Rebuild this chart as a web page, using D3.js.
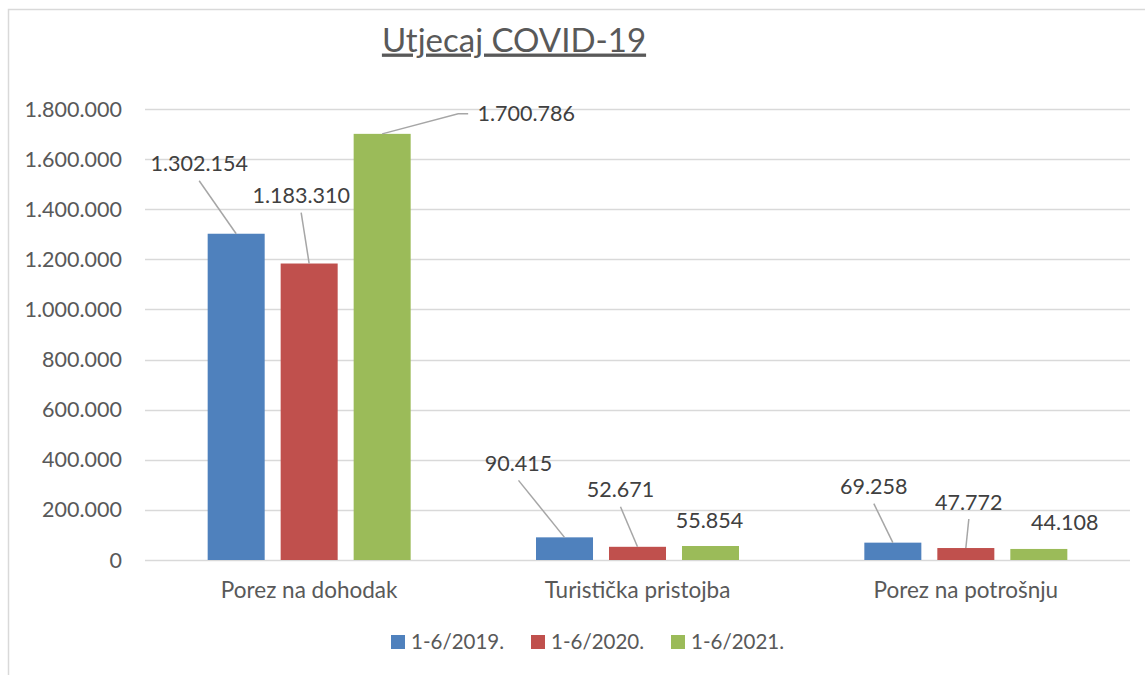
<!DOCTYPE html>
<html><head><meta charset="utf-8">
<script src="https://cdn.jsdelivr.net/npm/d3@7"></script>
<style>body{margin:0;background:#fff}svg{display:block}text{font-family:Lato,"Open Sans",sans-serif}</style>
</head><body><svg id="c" width="1145" height="675"></svg>
<script>
const categories = ["Porez na dohodak", "Turistička pristojba", "Porez na potrošnju"];
const seriesNames = ["1-6/2019.", "1-6/2020.", "1-6/2021."];
const v2019 = [1302154, 90415, 69258];
const v2020 = [1183310, 52671, 47772];
const v2021 = [1700786, 55854, 44108];
const yTicks = [0, 200000, 400000, 600000, 800000, 1000000, 1200000, 1400000, 1600000, 1800000];
const title = "Utjecaj COVID-19";

const colors = ["#4F81BD", "#C0504D", "#9BBB59"];
const values = [v2019, v2020, v2021];
// label placement (layout): offsets from bar top-centre, leader flag
const labelLayout = [
  [{dx:-37,dy:-70,lead:1},{dx:-46,dy:-74,lead:1},{dx:-19,dy:-56,lead:1}],
  [{dx:-8,dy:-68,lead:1},{dx:-17,dy:-57,lead:1},{dx:3,dy:-46,lead:1}],
  [{dx:144,dy:-20,lead:2},{dx:-1,dy:-26,lead:0},{dx:26,dy:-26,lead:0}]
];

const fmt = n => String(n).replace(/\B(?=(\d{3})+(?!\d))/g, ".");
const svg = d3.select("#c");

svg.append("path").attr("d","M8.5,675 V9.5 H1145").attr("fill","none").attr("stroke","#D9D9D9").attr("stroke-width",1.5);

const y = d3.scaleLinear().domain([0,1800000]).range([560,109]);
const x0 = d3.scaleBand().domain(categories).range([145,1130]);
const x1 = d3.scaleBand().domain(seriesNames).range([0,203]).paddingInner(0.219);
const off = (x0.bandwidth()-203)/2;

// grid
svg.append("g").selectAll("line").data(yTicks).join("line")
  .attr("x1",145).attr("x2",1130).attr("y1",d=>Math.round(y(d))+0.5).attr("y2",d=>Math.round(y(d))+0.5)
  .attr("stroke","#D9D9D9").attr("stroke-width",1.5);

// y labels
svg.append("g").selectAll("text").data(yTicks).join("text")
  .attr("x",122).attr("y",d=>y(d)).attr("dy","0.35em").attr("text-anchor","end")
  .attr("font-size",21.5).attr("fill","#595959").text(d=>fmt(d));

// bars
seriesNames.forEach((s,si)=>{
  svg.append("g").selectAll("rect").data(categories).join("rect")
    .attr("x",c=>x0(c)+off+x1(s)).attr("width",x1.bandwidth())
    .attr("y",(c,ci)=>y(values[si][ci])).attr("height",(c,ci)=>y(0)-y(values[si][ci]))
    .attr("fill",colors[si]);
});

// labels
seriesNames.forEach((s,si)=>{
  categories.forEach((c,ci)=>{
    const bx = x0(c)+off+x1(s)+x1.bandwidth()/2, by = y(values[si][ci]);
    const L = labelLayout[si][ci];
    const lx = bx+L.dx, ly = by+L.dy;
    if (L.lead===1) {
      svg.append("line").attr("x1",lx).attr("y1",ly+17).attr("x2",bx).attr("y2",by)
        .attr("stroke","#A6A6A6").attr("stroke-width",1.5);
    } else if (L.lead===2) {
      const tx = lx-48;
      svg.append("polyline").attr("points",`${bx},${by} ${tx-20},${ly} ${tx-10},${ly}`)
        .attr("fill","none").attr("stroke","#A6A6A6").attr("stroke-width",1.5);
    }
    svg.append("text").attr("x",lx).attr("y",ly).attr("dy","0.35em").attr("text-anchor","middle")
      .attr("font-size",21.5).attr("fill","#404040").text(fmt(values[si][ci]));
  });
});

// category labels
svg.append("g").selectAll("text").data(categories).join("text")
  .attr("x",c=>x0(c)+x0.bandwidth()/2).attr("y",590).attr("dy","0.35em").attr("text-anchor","middle")
  .attr("font-size",22.5).attr("fill","#595959").text(c=>c);

// title
svg.append("text").attr("x",514).attr("y",40).attr("dy","0.35em").attr("text-anchor","middle")
  .attr("font-size",33).attr("fill","#595959").attr("text-decoration","underline").text(title);

// legend
const legX = [391,531,671];
seriesNames.forEach((s,i)=>{
  svg.append("rect").attr("x",legX[i]).attr("y",635).attr("width",14).attr("height",14).attr("fill",colors[i]);
  svg.append("text").attr("x",legX[i]+20).attr("y",642).attr("dy","0.35em")
    .attr("font-size",20.5).attr("fill","#595959").text(s);
});
</script></body></html>
